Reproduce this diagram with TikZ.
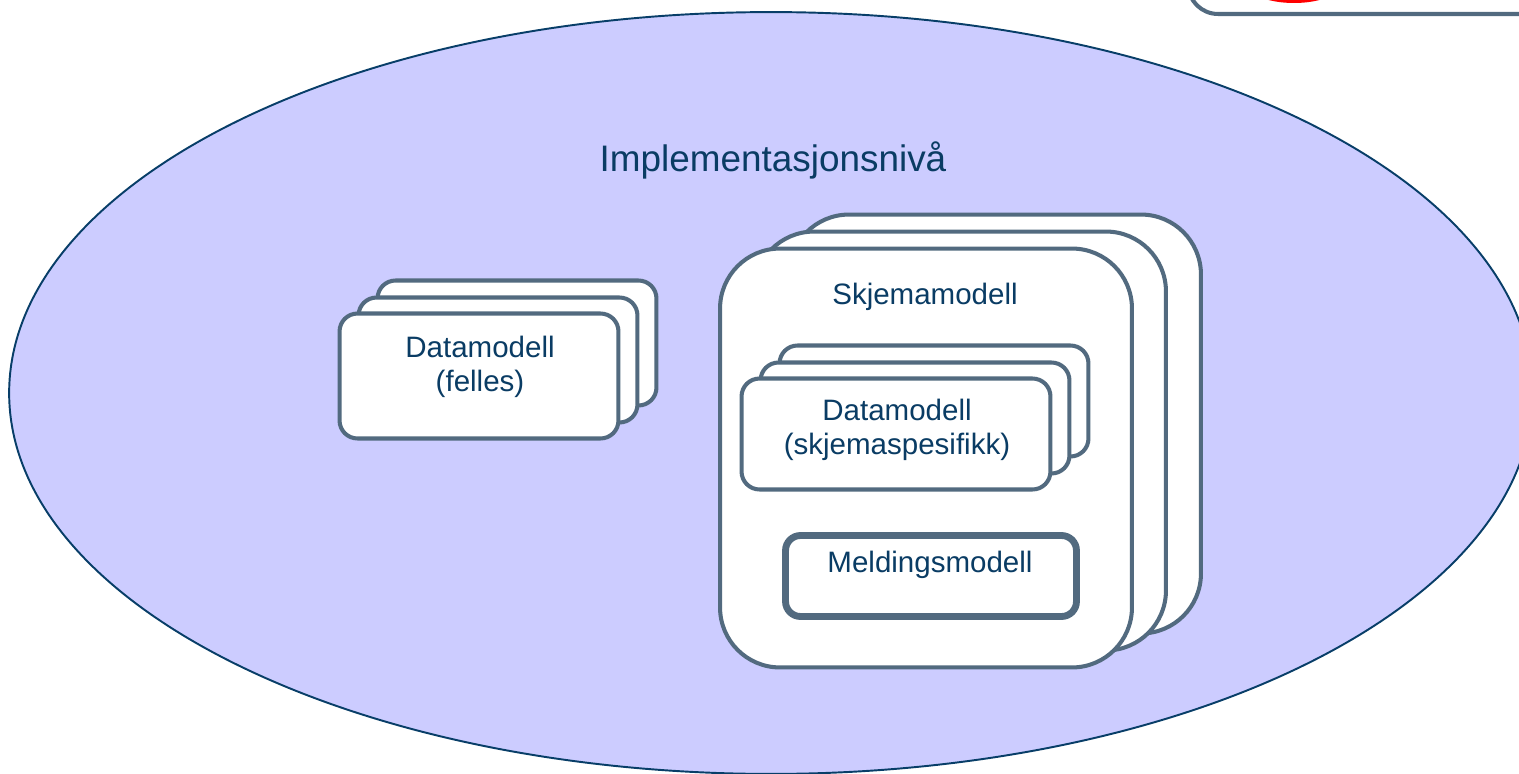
\documentclass[tikz,border=0pt]{standalone}
\usepackage{fontspec}
\setmainfont{Liberation Sans}
\usetikzlibrary{positioning}

\definecolor{nivafill}{RGB}{204,204,255}
\definecolor{nivaline}{RGB}{8,62,104}
\definecolor{boxline}{RGB}{82,106,127}
\definecolor{boxtext}{RGB}{10,60,100}
\definecolor{markred}{RGB}{255,0,0}

\tikzset{
  card/.style={draw=boxline, fill=white, line width=2.3pt, rounded corners=0.36cm},
  bigcard/.style={draw=boxline, fill=white, line width=2.3pt, rounded corners=1.2cm},
  msgcard/.style={draw=boxline, fill=white, line width=3.9pt, rounded corners=0.3cm},
  label/.style={text=boxtext, align=center, font=\fontsize{16.8}{19.5}\selectfont},
}

\begin{document}
\begin{tikzpicture}[x=0.02cm, y=-0.02cm]
  \useasboundingbox (0,0) rectangle (1519,774);
  \clip (0,0) rectangle (1519,774);

  % box cut off at the top right
  \node[card, rounded corners=0.6cm, minimum width=8.24cm, minimum height=2.28cm] (corner) at (1394,-43) {};
  \fill[markred] (1294,-15) ellipse [x radius=0.92cm, y radius=0.36cm];

  % level
  \draw[fill=nivafill, draw=nivaline, line width=1.1pt] (771,393) ellipse [x radius=15.24cm, y radius=7.62cm];
  \node[text=boxtext, font=\fontsize{21}{24}\selectfont] (niva) at (773,160) {Implementasjonsnivå};

  % common data model
  \node[card, minimum width=5.58cm, minimum height=2.5cm] (felles3) at (517,343) {};
  \node[card, minimum width=5.58cm, minimum height=2.5cm] (felles2) at (498,360) {};
  \node[card, minimum width=5.58cm, minimum height=2.5cm] (felles1) at (479,376) {};
  \node[label] (fellestxt) at (480,367) {Datamodell\\(felles)};

  % form model
  \node[bigcard, minimum width=8.24cm, minimum height=8.38cm] (skjema3) at (995,424) {};
  \node[bigcard, minimum width=8.24cm, minimum height=8.38cm] (skjema2) at (960,441) {};
  \node[bigcard, minimum width=8.24cm, minimum height=8.38cm] (skjema1) at (926,458) {};
  \node[label] (skjematxt) at (925,297) {Skjemamodell};

  \node[card, minimum width=6.18cm, minimum height=2.22cm] (spes3) at (934,401) {};
  \node[card, minimum width=6.18cm, minimum height=2.22cm] (spes2) at (915,418) {};
  \node[card, minimum width=6.18cm, minimum height=2.22cm] (spes1) at (896,434) {};
  \node[label] (spestxt) at (897,430) {Datamodell\\(skjemaspesifikk)};

  \node[msgcard, minimum width=5.82cm, minimum height=1.62cm] (melding) at (931,576) {};
  \node[label] (meldingtxt) at (930,565) {Meldingsmodell};
\end{tikzpicture}
\end{document}
